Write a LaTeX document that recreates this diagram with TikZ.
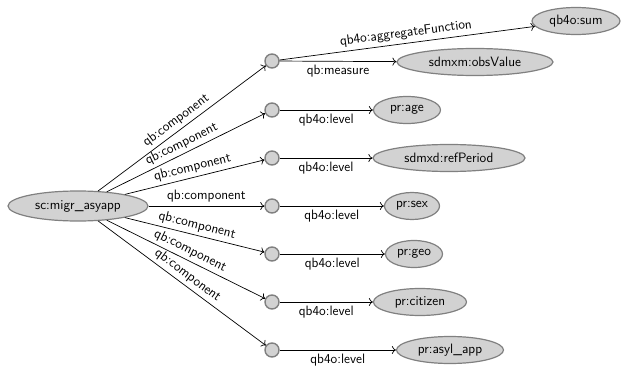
\documentclass[tikz,border=0pt]{standalone}
\usepackage{tikz}
\usetikzlibrary{shapes.geometric,arrows.meta}
\definecolor{nodefill}{HTML}{D2D2D2}
\definecolor{nodeline}{HTML}{808080}

\begin{document}
\begin{tikzpicture}[x=1pt,y=-1pt,
  font=\fontsize{13.6}{16}\sffamily,
  lit/.style={ellipse,draw=nodeline,line width=1.2pt,fill=nodefill,
    inner sep=0pt,minimum height=27pt},
  blank/.style={circle,draw=nodeline,line width=1.4pt,fill=nodefill,
    inner sep=0pt,minimum size=14pt},
  arc/.style={-{To[length=4pt,width=8pt]},line width=0.7pt}]
 \useasboundingbox (0,0) rectangle (625,372);
 % root and blank nodes
 \node[lit,minimum width=140pt,minimum height=30pt] (R) at (78,206) {sc:migr\_asyapp};
 \node[blank] (B1) at (272,61) {};
 \node[blank] (B2) at (272,110) {};
 \node[blank] (B3) at (272,158) {};
 \node[blank] (B4) at (272,206) {};
 \node[blank] (B5) at (272,254) {};
 \node[blank] (B6) at (272,302) {};
 \node[blank] (B7) at (272,350) {};
 % objects
 \node[lit,minimum width=88pt] (Sum) at (576,21) {qb4o:sum};
 \node[lit,minimum width=156pt] (Obs) at (475,62) {sdmxm:obsValue};
 \node[lit,minimum width=67pt] (Age) at (407,110) {pr:age};
 \node[lit,minimum width=152pt] (Ref) at (449,158) {sdmxd:refPeriod};
 \node[lit,minimum width=55pt] (Sex) at (412,206) {pr:sex};
 \node[lit,minimum width=57pt] (Geo) at (414,254) {pr:geo};
 \node[lit,minimum width=93pt] (Cit) at (420,302) {pr:citizen};
 \node[lit,minimum width=107pt] (Asy) at (450,350) {pr:asyl\_app};
 % components
 \draw[arc] (R) -- node[sloped,above] {qb:component} (B1);
 \draw[arc] (R) -- node[sloped,above] {qb:component} (B2);
 \draw[arc] (R) -- node[sloped,above] {qb:component} (B3);
 \draw[arc] (R) -- node[sloped,above] {qb:component} (B4);
 \draw[arc] (R) -- node[sloped,above] {qb:component} (B5);
 \draw[arc] (R) -- node[sloped,above] {qb:component} (B6);
 \draw[arc] (R) -- node[sloped,above] {qb:component} (B7);
 % properties
 \draw[arc] (B1) -- node[sloped,above] {qb4o:aggregateFunction} (Sum);
 \draw[arc] (B1) -- node[below] {qb:measure} (Obs);
 \draw[arc] (B2) -- node[below] {qb4o:level} (Age);
 \draw[arc] (B3) -- node[below] {qb4o:level} (Ref);
 \draw[arc] (B4) -- node[below] {qb4o:level} (Sex);
 \draw[arc] (B5) -- node[below] {qb4o:level} (Geo);
 \draw[arc] (B6) -- node[below] {qb4o:level} (Cit);
 \draw[arc] (B7) -- node[below] {qb4o:level} (Asy);
\end{tikzpicture}
\end{document}
